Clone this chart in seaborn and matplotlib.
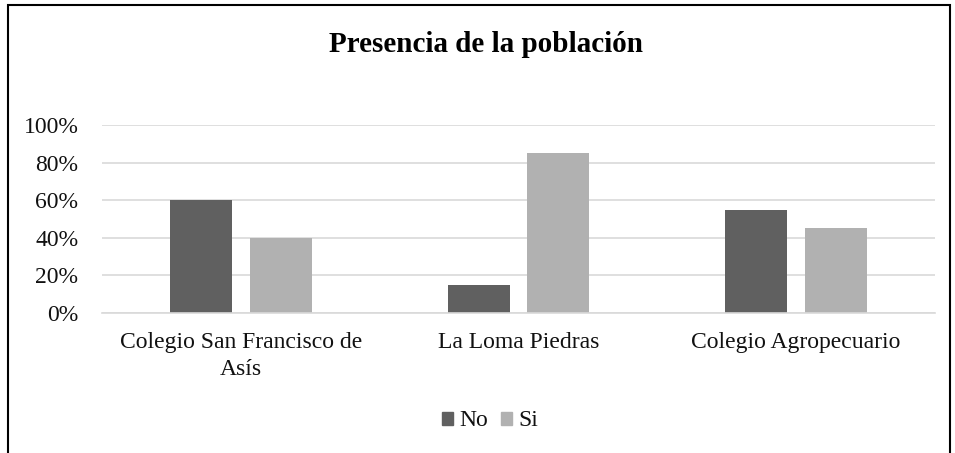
import pandas as pd
import numpy as np
import seaborn as sns
import matplotlib.pyplot as plt
from matplotlib.ticker import PercentFormatter
from matplotlib.patches import Rectangle

# data
lugares = ["Colegio San Francisco de\nAsís", "La Loma Piedras", "Colegio Agropecuario"]
respuestas = ["No", "Si"]
no_vals = [0.60, 0.15, 0.55]
si_vals = [0.40, 0.85, 0.45]
colores = ["#606060", "#b1b1b1"]

df = pd.DataFrame({
    "lugar": lugares * 2,
    "respuesta": ["No"] * 3 + ["Si"] * 3,
    "valor": no_vals + si_vals,
})

sns.set_theme(style="white")
plt.rcParams['font.family'] = ['Liberation Serif', 'DejaVu Serif']

fig = plt.figure(figsize=(9.55, 4.53), dpi=100)
ax = fig.add_axes([102 / 955, 1 - 313 / 453, 833 / 955, 188 / 453])

sns.barplot(data=df, x="lugar", y="valor", hue="respuesta", palette=colores,
            width=0.572, gap=0.22, linewidth=0, ax=ax)

ax.set_ylim(0, 1)
ax.set_yticks(np.arange(0, 1.01, 0.2))
ax.yaxis.set_major_formatter(PercentFormatter(1.0, decimals=0))
ax.grid(axis="y", color="#d9d9d9", linewidth=1.2)
ax.set_axisbelow(True)
for s in ["left", "right", "top"]:
    ax.spines[s].set_visible(False)
ax.spines["bottom"].set_color("#d9d9d9")
ax.spines["bottom"].set_linewidth(1.2)
ax.tick_params(axis="y", length=0, pad=17, labelsize=17, labelcolor="#111111")
ax.tick_params(axis="x", length=0, pad=14, labelsize=17, labelcolor="#111111")
for lbl in ax.get_xticklabels():
    lbl.set_linespacing(1.35)
ax.set_xlabel("")
ax.set_ylabel("")

# legend at the bottom
ax.legend_.remove()
handles = [Rectangle((0, 0), 1, 1, color=c) for c in colores]
fig.legend(handles, respuestas, loc="center", bbox_to_anchor=(490 / 955, 1 - 421 / 453),
           ncol=2, frameon=False, fontsize=17, handlelength=0.47, handleheight=0.47,
           handletextpad=0.25, columnspacing=0.55, labelcolor="#111111")

fig.text(486 / 955, 1 - 44 / 453, "Presencia de la población", ha="center", va="center",
         fontsize=21, fontweight="bold", color="black")

# chart border
fig.patches.append(Rectangle((8 / 955, -0.1), 942 / 955, 1.1 - 5 / 453, transform=fig.transFigure,
                             fill=False, edgecolor="black", linewidth=1.5))

fig.savefig("out.png", dpi=100)
